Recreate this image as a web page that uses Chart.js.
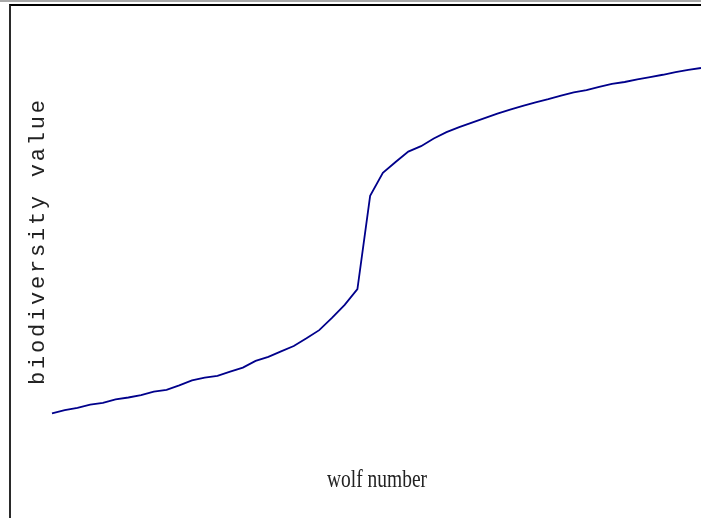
<!DOCTYPE html>
<html>
<head>
<meta charset="utf-8">
<script src="https://cdn.jsdelivr.net/npm/chart.js@4"></script>
<style>
    body { margin: 0; background: #fff; overflow: hidden; }
    #wrap { position: relative; width: 701px; height: 518px; }
    #chart { position: absolute; left: 0; top: 0; }
    .rule-top { position: absolute; left: 0; top: 0; width: 701px; height: 2px; background: #a8a8a8; }
    .frame { position: absolute; left: 9px; top: 4px; width: 692px; height: 514px;
             border-top: 2px solid #000; border-left: 2px solid #2a2a2a; box-sizing: border-box; }
</style>
</head>
<body>
<div id="wrap">
    <canvas id="chart" width="701" height="518"></canvas>
    <div class="rule-top"></div>
    <div class="frame"></div>
</div>
<script>
// wolf number (x) and biodiversity value (y)
const wolfNumbers = [0, 1, 2, 3, 4, 5, 6, 7, 8, 9, 10, 11, 12, 13, 14, 15, 16, 17, 18, 19,
    20, 21, 22, 23, 24, 25, 26, 27, 28, 29, 30, 31, 32, 33, 34, 35, 36, 37, 38, 39,
    40, 41, 42, 43, 44, 45, 46, 47, 48, 49, 50, 51];
const biodiversity = [
    12.1, 12.8, 13.3, 14.0, 14.4, 15.2, 15.6, 16.1, 16.9, 17.3,
    18.3, 19.4, 20.0, 20.4, 21.3, 22.2, 23.7, 24.6, 25.8, 27.0,
    28.7, 30.5, 33.2, 36.1, 39.6, 60.2, 65.3, 67.7, 70.0, 71.2,
    72.9, 74.3, 75.4, 76.4, 77.4, 78.4, 79.3, 80.1, 80.9, 81.6,
    82.4, 83.1, 83.6, 84.3, 85.0, 85.4, 86.0, 86.5, 87.0, 87.6,
    88.1, 88.5
];
const xTitle = 'wolf number';
const yTitle = 'biodiversity value';

// axis titles drawn by hand: the original uses a narrow serif and a spaced mono face
const axisTitles = {
    id: 'axisTitles',
    afterDraw(chart) {
        const ctx = chart.ctx;
        ctx.save();
        ctx.fillStyle = '#222';
        ctx.textBaseline = 'alphabetic';

        // x title, squeezed horizontally
        ctx.font = '26px "Liberation Serif"';
        const w = ctx.measureText(xTitle).width;
        const sx = 100 / w;
        ctx.save();
        ctx.translate(377, 487);
        ctx.scale(sx, 1);
        ctx.textAlign = 'center';
        ctx.fillText(xTitle, 0, 0);
        ctx.restore();

        // y title, rotated, letter spaced
        ctx.font = '22px "Liberation Mono"';
        const plain = ctx.measureText(yTitle).width;
        const spacing = (285 - plain) / (yTitle.length - 1);
        ctx.save();
        ctx.translate(44, 385);
        ctx.rotate(-Math.PI / 2);
        ctx.textAlign = 'left';
        let x = 0;
        for (const ch of yTitle) {
            ctx.fillText(ch, x, 0);
            x += ctx.measureText(ch).width + spacing;
        }
        ctx.restore();

        ctx.restore();
    }
};

new Chart(document.getElementById('chart'), {
    type: 'line',
    data: {
        labels: wolfNumbers,
        datasets: [{
            label: yTitle,
            data: biodiversity,
            borderColor: '#00008b',
            borderWidth: 1.8,
            pointRadius: 0,
            tension: 0,
            fill: false
        }]
    },
    options: {
        responsive: false,
        animation: false,
        layout: { padding: { left: 52, right: 0, top: 16, bottom: 50 } },
        plugins: {
            legend: { display: false },
            tooltip: { enabled: false }
        },
        scales: {
            x: { display: false },
            y: { display: false, min: 0, max: 100 }
        }
    },
    plugins: [axisTitles]
});
</script>
</body>
</html>
